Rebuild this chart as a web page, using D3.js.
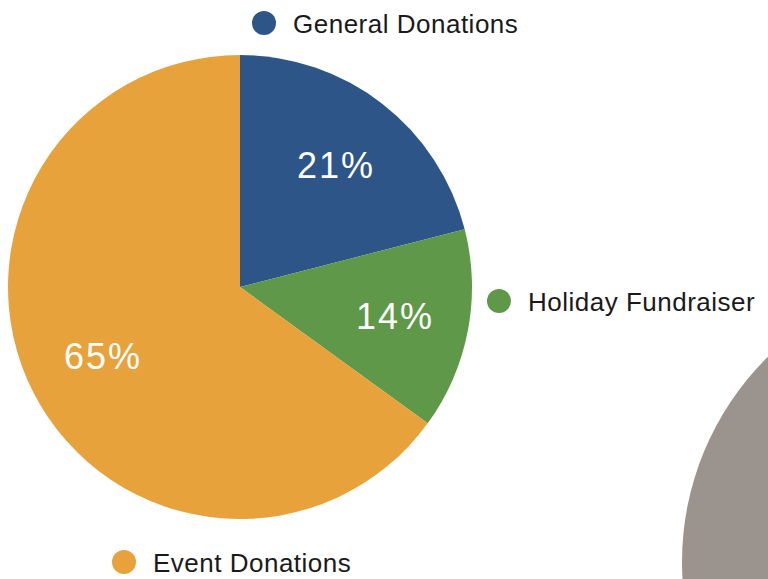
<!DOCTYPE html>
<html>
<head>
<meta charset="utf-8">
<script src="https://cdn.jsdelivr.net/npm/d3@7"></script>
<style>
body { margin: 0; background: #fff; }
svg { display: block; font-family: "Liberation Sans", Arial, sans-serif; }
</style>
</head>
<body>
<svg id="chart" width="768" height="579"></svg>
<script>
let categories = ["General Donations", "Holiday Fundraiser", "Event Donations"]
let values = [21, 14, 65]
let colors = ["#2d5588", "#5e9848", "#e7a23c"]

let width = 768, height = 579
let cx = 240, cy = 287, radius = 232
let svg = d3.select("#chart")

// gray circle peeking in at bottom right
svg.append("circle")
    .attr("cx", 970)
    .attr("cy", 562)
    .attr("r", 288)
    .attr("fill", "#9b948e")

let data = categories.map((c, i) => ({ name: c, value: values[i], color: colors[i] }))
let pie = d3.pie().sort(null).value(d => d.value)
let arc = d3.arc().innerRadius(0).outerRadius(radius)

let g = svg.append("g").attr("transform", "translate(" + [cx, cy] + ")")
let arcs = pie(data)

g.selectAll("path")
    .data(arcs)
    .enter()
    .append("path")
    .attr("d", arc)
    .attr("fill", d => d.data.color)

// label positions (baseline) relative to the pie centre
let labelPos = [[96, -109], [155, 42], [-137, 82]]
g.selectAll("text.pct")
    .data(arcs)
    .enter()
    .append("text")
    .attr("class", "pct")
    .attr("x", (d, i) => labelPos[i][0])
    .attr("y", (d, i) => labelPos[i][1])
    .attr("text-anchor", "middle")
    .attr("fill", "#fff")
    .style("font-size", "36px")
    .style("letter-spacing", "2px")
    .text(d => d.data.value + "%")

// legend entries around the pie
let legendPos = [[264, 23], [499, 301], [124, 562]]
let legend = svg.selectAll("g.legend")
    .data(data)
    .enter()
    .append("g")
    .attr("class", "legend")
    .attr("transform", (d, i) => "translate(" + legendPos[i] + ")")
legend.append("circle")
    .attr("r", 12)
    .attr("fill", d => d.color)
legend.append("text")
    .attr("x", 29)
    .attr("y", 10)
    .attr("fill", "#1a1a1a")
    .style("font-size", "26px")
    .style("letter-spacing", "0.5px")
    .text(d => d.name)
</script>
</body>
</html>
